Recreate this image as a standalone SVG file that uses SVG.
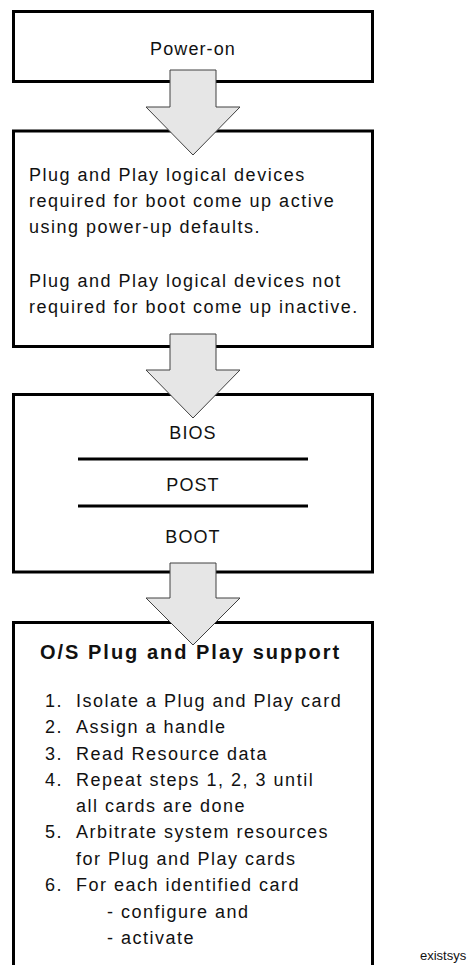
<svg xmlns="http://www.w3.org/2000/svg" width="475" height="965" viewBox="0 0 475 965">
  <style>
    .box { fill: #ffffff; stroke: #000000; stroke-width: 3; }
    .rule { stroke: #000000; stroke-width: 3; }
    .flow { fill: #e6e6e6; stroke: #404040; stroke-width: 1; stroke-linejoin: miter; }
    .t { font-family: "Liberation Sans", Arial, Helvetica, sans-serif; font-size: 18px; letter-spacing: 1.5px; fill: #111111; }
    .c { text-anchor: middle; letter-spacing: 1.1px; }
    .title { font-family: "Liberation Sans", Arial, Helvetica, sans-serif; font-size: 20px; font-weight: bold; letter-spacing: 2px; fill: #111111; }
    .tag { font-family: "Liberation Sans", Arial, Helvetica, sans-serif; font-size: 13px; fill: #111111; }
  </style>

  <!-- Power-on stage -->
  <g id="power-on">
    <rect class="box" x="13.5" y="11.5" width="359" height="70"/>
    <text class="t c" x="193" y="55">Power-on</text>
  </g>

  <!-- Logical device state at boot -->
  <g id="device-defaults">
    <rect class="box" x="13.5" y="131" width="359" height="215.5"/>
    <text class="t" x="29" y="181">Plug and Play logical devices</text>
    <text class="t" x="29" y="207">required for boot come up active</text>
    <text class="t" x="29" y="233">using power-up defaults.</text>
    <text class="t" x="29" y="287">Plug and Play logical devices not</text>
    <text class="t" x="29" y="313">required for boot come up inactive.</text>
  </g>

  <!-- Firmware phases -->
  <g id="bios-post-boot">
    <rect class="box" x="13.5" y="394.5" width="359" height="177.5"/>
    <text class="t c" x="193" y="439">BIOS</text>
    <line class="rule" x1="78" y1="459" x2="308" y2="459"/>
    <text class="t c" x="193" y="491">POST</text>
    <line class="rule" x1="78" y1="506" x2="308" y2="506"/>
    <text class="t c" x="193" y="543">BOOT</text>
  </g>

  <!-- Operating system configuration steps -->
  <g id="os-support">
    <rect class="box" x="13.5" y="622.5" width="359" height="360"/>
    <text class="title" x="40" y="659">O/S Plug and Play support</text>
    <text class="t" x="45" y="707">1.</text>
    <text class="t" x="76" y="707">Isolate a Plug and Play card</text>
    <text class="t" x="45" y="733">2.</text>
    <text class="t" x="76" y="733">Assign a handle</text>
    <text class="t" x="45" y="760">3.</text>
    <text class="t" x="76" y="760">Read Resource data</text>
    <text class="t" x="45" y="786">4.</text>
    <text class="t" x="76" y="786">Repeat steps 1, 2, 3 until</text>
    <text class="t" x="76" y="812">all cards are done</text>
    <text class="t" x="45" y="838">5.</text>
    <text class="t" x="76" y="838">Arbitrate system resources</text>
    <text class="t" x="76" y="865">for Plug and Play cards</text>
    <text class="t" x="45" y="891">6.</text>
    <text class="t" x="76" y="891">For each identified card</text>
    <text class="t" x="107" y="918">- configure and</text>
    <text class="t" x="107" y="944">- activate</text>
  </g>

  <!-- Block arrows between stages -->
  <g id="connectors">
    <polygon class="flow" points="170,70 216,70 216,107 240,107 193,155 146,107 170,107"/>
    <polygon class="flow" points="170,334 216,334 216,370 240,370 193,418 146,370 170,370"/>
    <polygon class="flow" points="170,563 216,563 216,598 240,598 193,645 146,598 170,598"/>
  </g>

  <text class="tag" x="420" y="960">existsys</text>
</svg>
